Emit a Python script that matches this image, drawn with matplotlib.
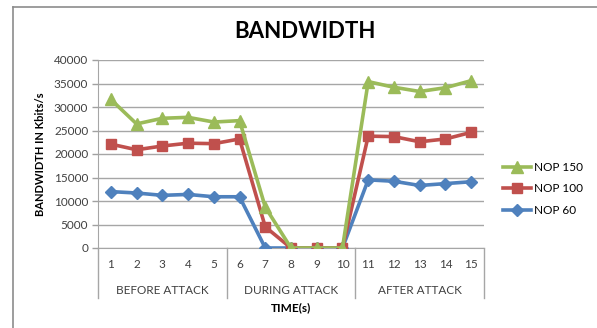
import matplotlib.pyplot as plt
from matplotlib.lines import Line2D
from matplotlib.transforms import blended_transform_factory

plt.rcParams['font.family'] = ['Lato', 'DejaVu Sans']

# data
time_s = list(range(1, 16))
groups = ['BEFORE ATTACK', 'DURING ATTACK', 'AFTER ATTACK']
nop150 = [31600, 26400, 27600, 27800, 26800, 27100, 8700, 0, 0, 0,
          35400, 34200, 33300, 34100, 35600]
nop100 = [22100, 20900, 21700, 22300, 22200, 23200, 4500, 0, 0, 0,
          23800, 23700, 22600, 23200, 24600]
nop60 = [12000, 11700, 11200, 11400, 10900, 10900, 0, 0, 0, 0,
         14500, 14200, 13300, 13700, 14100]
yticks = list(range(0, 40001, 5000))

W, H = 597, 328
fig = plt.figure(figsize=(W / 100, H / 100), dpi=100)
ax = fig.add_axes([98 / W, 1 - 248 / H, (484 - 98) / W, (248 - 60) / H])

ax.plot(time_s, nop60, color='#4F81BD', lw=2.6, marker='D', ms=6, label='NOP 60', zorder=3)
ax.plot(time_s, nop100, color='#C0504D', lw=2.6, marker='s', ms=7.5, label='NOP 100', zorder=4)
ax.plot(time_s, nop150, color='#9BBB59', lw=2.6, marker='^', ms=8.5, label='NOP 150', zorder=5)

ax.set_xlim(0.5, 15.5)
ax.set_ylim(0, 40000)
ax.set_yticks(yticks)
ax.set_yticklabels([str(v) for v in yticks], fontsize=8.5, color='#404040')
ax.tick_params(axis='y', length=4, width=1, color='#a0a0a0', pad=3)
ax.set_xticks([])
ax.grid(axis='y', color='#a6a6a6', lw=1)
ax.set_axisbelow(True)
for s in ['top', 'right']:
    ax.spines[s].set_visible(False)
ax.spines['left'].set_color('#a6a6a6')
ax.spines['bottom'].set_color('#a6a6a6')

# multi-level category axis
tr = blended_transform_factory(ax.transData, ax.transAxes)
for t in time_s:
    ax.text(t, -0.09, str(t), transform=tr, ha='center', va='center',
            fontsize=8.5, color='#404040')
for i, g in enumerate(groups):
    ax.text(3 + 5 * i, -0.225, g, transform=tr, ha='center', va='center',
            fontsize=8.5, color='#404040')
for xb in [0.5, 5.5, 10.5, 15.5]:
    ax.plot([xb, xb], [0, -0.266], transform=tr, color='#a6a6a6', lw=1,
            clip_on=False)
ax.text(0.5, -0.32, 'TIME(s)', transform=ax.transAxes, ha='center', va='center',
        fontsize=8.5, fontweight='bold')
ax.set_ylabel('BANDWIDTH IN Kbits/s', fontsize=8, fontweight='bold', labelpad=6)

fig.text(305 / W, 1 - 32 / H, 'BANDWIDTH', ha='center', va='center',
         fontsize=16, fontweight='bold')

h, l = ax.get_legend_handles_labels()
fig.legend(h[::-1], l[::-1], loc='center left', bbox_to_anchor=(503 / W, 1 - 189 / H),
           frameon=False, fontsize=8.5, handlelength=2.4, handletextpad=0.2,
           labelspacing=0.9, borderpad=0, borderaxespad=0)

# chart border
fig.add_artist(Line2D([13 / W, 13 / W], [0, 1 - 7 / H], color='#8c8c8c', lw=1.2))
fig.add_artist(Line2D([13 / W, 1], [1 - 7 / H, 1 - 7 / H], color='#8c8c8c', lw=1.2))

fig.savefig('out.png', dpi=100)
